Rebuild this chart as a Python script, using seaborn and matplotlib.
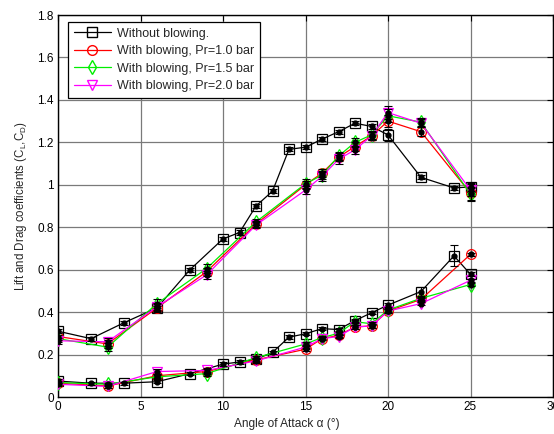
import matplotlib
matplotlib.use("Agg")
import matplotlib.pyplot as plt
import seaborn as sns
import numpy as np
from matplotlib.lines import Line2D

# ---- data ----
alpha_nb = [0, 2, 4, 6, 8, 10, 11, 12, 13, 14, 15, 16, 17, 18, 19, 20, 22, 24, 25]
cl_nb = [0.31, 0.275, 0.35, 0.42, 0.60, 0.745, 0.775, 0.90, 0.97, 1.167, 1.177, 1.215, 1.25, 1.29, 1.275, 1.235, 1.035, 0.985, 0.99]
cd_nb = [0.075, 0.065, 0.065, 0.072, 0.11, 0.155, 0.165, 0.178, 0.21, 0.282, 0.298, 0.322, 0.318, 0.36, 0.397, 0.433, 0.497, 0.665, 0.578]
cl_nb_err = [0.01, 0.01, 0.01, 0.01, 0.01, 0.01, 0.01, 0.01, 0.01, 0.01, 0.01, 0.01, 0.01, 0.01, 0.01, 0.03, 0.01, 0.01, 0.02]
cd_nb_err = [0.008, 0.008, 0.008, 0.008, 0.008, 0.008, 0.008, 0.008, 0.008, 0.008, 0.008, 0.008, 0.008, 0.008, 0.008, 0.008, 0.02, 0.05, 0.01]

alpha_b = [0, 3, 6, 9, 12, 15, 16, 17, 18, 19, 20, 22, 25]
cl_10 = [0.285, 0.25, 0.42, 0.59, 0.815, 1.0, 1.055, 1.13, 1.18, 1.23, 1.30, 1.25, 0.96]
cl_15 = [0.275, 0.235, 0.44, 0.605, 0.825, 1.005, 1.045, 1.135, 1.20, 1.235, 1.325, 1.295, 0.955]
cl_20 = [0.265, 0.26, 0.425, 0.575, 0.81, 0.975, 1.04, 1.12, 1.165, 1.23, 1.34, 1.29, 0.975]
cd_10 = [0.065, 0.052, 0.10, 0.12, 0.175, 0.225, 0.275, 0.29, 0.33, 0.335, 0.405, 0.46, 0.672]
cd_15 = [0.068, 0.06, 0.095, 0.11, 0.185, 0.25, 0.28, 0.30, 0.355, 0.345, 0.41, 0.465, 0.53]
cd_20 = [0.06, 0.05, 0.12, 0.125, 0.17, 0.235, 0.275, 0.285, 0.33, 0.335, 0.405, 0.44, 0.55]
cl_b_err = [0.015, 0.02, 0.02, 0.02, 0.015, 0.02, 0.02, 0.02, 0.02, 0.02, 0.03, 0.02, 0.03]
cd_b_err = [0.008, 0.008, 0.01, 0.01, 0.008, 0.008, 0.008, 0.008, 0.008, 0.008, 0.008, 0.008, 0.008]

labels = ["Without blowing.", "With blowing, Pr=1.0 bar",
          "With blowing, Pr=1.5 bar", "With blowing, Pr=2.0 bar"]
colors = ["#000000", "#ff0000", "#00ee00", "#ff00ff"]
markers = ["s", "o", "d", "v"]

xticks = [0, 5, 10, 15, 20, 25, 30]
yticks = [0, 0.2, 0.4, 0.6, 0.8, 1.0, 1.2, 1.4, 1.6, 1.8]
ytick_labels = ["0", "0.2", "0.4", "0.6", "0.8", "1", "1.2", "1.4", "1.6", "1.8"]

# ---- style ----
sns.set_style("white")
plt.rcParams["font.family"] = ["Liberation Sans", "DejaVu Sans"]
plt.rcParams["mathtext.fontset"] = "custom"
plt.rcParams["mathtext.rm"] = "Liberation Sans"
plt.rcParams["mathtext.it"] = "Liberation Sans"

fig = plt.figure(figsize=(5.54, 4.34), dpi=100)
ax = fig.add_axes([58 / 554, 1 - 397 / 434, (553 - 58) / 554, (397 - 15) / 434])

series = [
    (alpha_nb, cl_nb, cd_nb, cl_nb_err, cd_nb_err),
    (alpha_b, cl_10, cd_10, cl_b_err, cd_b_err),
    (alpha_b, cl_15, cd_15, cl_b_err, cd_b_err),
    (alpha_b, cl_20, cd_20, cl_b_err, cd_b_err),
]

for (a, cl, cd, ecl, ecd), c, m in zip(series, colors, markers):
    for yv, ev in ((cl, ecl), (cd, ecd)):
        sns.lineplot(x=a, y=yv, ax=ax, color=c, marker=m, markersize=7,
                     markerfacecolor="none", markeredgecolor=c, markeredgewidth=0.9,
                     linewidth=0.9, legend=False, zorder=3)
        ax.errorbar(a, yv, yerr=ev, fmt="o", color="black", markersize=3.5,
                    elinewidth=0.8, capsize=3, capthick=0.8, zorder=4)

ax.set_xlim(0, 30)
ax.set_ylim(0, 1.8)
ax.set_xticks(xticks)
ax.set_yticks(yticks)
ax.set_yticklabels(ytick_labels)
ax.grid(True, color="#7a7a7a", linewidth=0.9)
ax.set_axisbelow(True)
for s in ax.spines.values():
    s.set_color("black")
    s.set_linewidth(1.0)
    s.set_visible(True)
ax.tick_params(direction="in", length=4, width=0.8, top=True, right=True,
               labelsize=8.5, colors="black", pad=3)

ax.set_xlabel("Angle of Attack \u03b1 (\u00b0)", fontsize=8.6)
ax.xaxis.set_label_coords((287 - 58) / 495, -0.055)
ax.xaxis.label.set_va("top")
ax.set_ylabel("Lift and Drag coefficients (C$_L$,C$_D$)", fontsize=8.3, labelpad=6)

handles = [Line2D([0], [0], color=c, marker=m, markersize=7, markerfacecolor="none",
                  markeredgecolor=c, linewidth=0.9) for c, m in zip(colors, markers)]
leg = ax.legend(handles, labels, loc="upper left", bbox_to_anchor=(0.02, 0.982),
                fontsize=9, frameon=True, fancybox=False, edgecolor="black",
                framealpha=1, handlelength=3.0, borderpad=0.45, labelspacing=0.45,
                handletextpad=0.5, borderaxespad=0)
leg.get_frame().set_linewidth(0.9)

fig.savefig("out.png", dpi=100)
